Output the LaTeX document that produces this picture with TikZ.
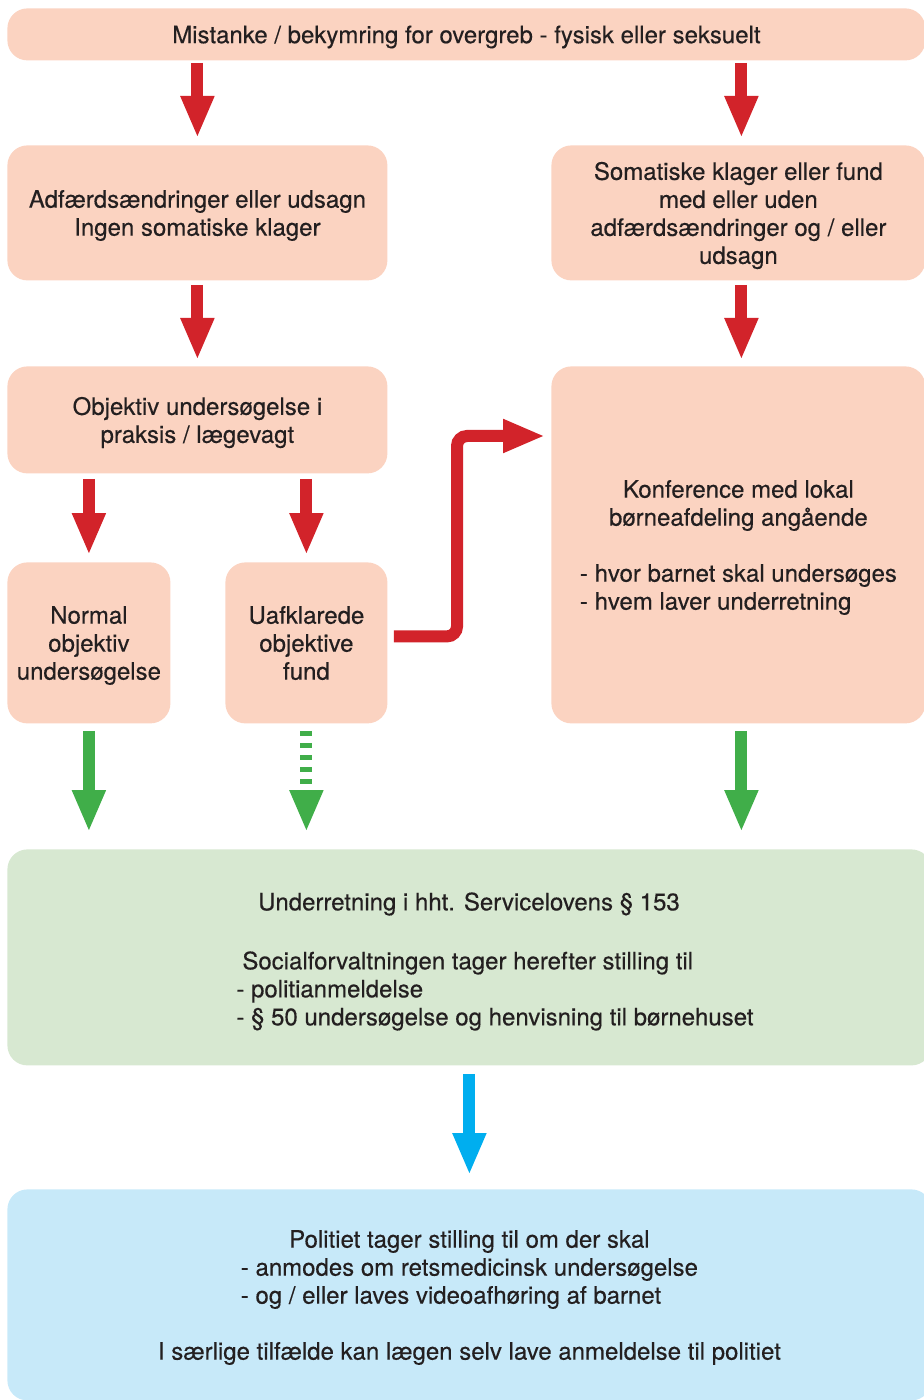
\documentclass[tikz,border=0pt]{standalone}
\usepackage{fontspec}
\setmainfont{TeX Gyre Heros}[FakeBold=0.35]
\usepackage{calc}
\usetikzlibrary{arrows.meta,positioning}

\definecolor{boxred}{RGB}{251,211,193}
\definecolor{boxgreen}{RGB}{215,232,209}
\definecolor{boxblue}{RGB}{199,233,249}
\definecolor{arrowred}{RGB}{210,35,42}
\definecolor{arrowgreen}{RGB}{64,174,73}
\definecolor{arrowblue}{RGB}{0,174,239}
\definecolor{txtgray}{RGB}{35,31,32}

\newcommand{\padline}[2]{\makebox[\widthof{#1}][l]{#2}}

\begin{document}
\begin{tikzpicture}[x=0.5pt,y=-0.5pt,
        font=\fontsize{12}{14}\selectfont,
        box/.style = {fill=#1,rounded corners=10pt,anchor=north west,inner sep=0pt,
                      align=center,text=txtgray,text depth=0pt},
        box/.default = boxred,
        txt/.style = {inner sep=0pt,text=txtgray},
        blockarrow/.style = {draw=#1,line width=6pt,-{Triangle[width=15.5pt,length=21pt]}},
        redarrow/.style = {blockarrow=arrowred},
        greenarrow/.style = {blockarrow=arrowgreen},
        bluearrow/.style = {blockarrow=arrowblue}
        ]

        \useasboundingbox (0,0) rectangle (924,1400);
        \clip (0,0) rectangle (924,1400);

        %Kasser
        \node[box,minimum width=459pt,minimum height=26pt] (mist) at (7,8)
            {Mistanke / bekymring for overgreb - fysisk eller seksuelt};
        \node[box,minimum width=190pt,minimum height=67.5pt] (adf) at (7,145)
            {Adfærdsændringer eller udsagn\\Ingen somatiske klager};
        \node[box,minimum width=187pt,minimum height=67.5pt] (som) at (551,145)
            {Somatiske klager eller fund\\med eller uden\\adfærdsændringer og / eller\\udsagn};
        \node[box,minimum width=190pt,minimum height=53.5pt] (obj) at (7,366)
            {Objektiv undersøgelse i\\praksis / lægevagt};
        \node[box,minimum width=81.5pt,minimum height=80.5pt] (norm) at (7,562)
            {Normal\\objektiv\\undersøgelse};
        \node[box,minimum width=81pt,minimum height=80.5pt] (uaf) at (225,562)
            {Uafklarede\\objektive\\fund};
        \node[box,minimum width=187pt,minimum height=178.5pt] (konf) at (551,366)
            {Konference med lokal\\børneafdeling angående\\[14pt]
             - hvor barnet skal undersøges\\
             \padline{- hvor barnet skal undersøges}{- hvem laver underretning}};
        \node[box=boxgreen,minimum width=462pt,minimum height=108pt] (soc) at (7,849) {};
        \node[box=boxblue,minimum width=462pt,minimum height=105.5pt,text depth=-4.5pt] (pol) at (7,1189)
            {Politiet tager stilling til om der skal\\
             - anmodes om retsmedicinsk undersøgelse\\
             \padline{- anmodes om retsmedicinsk undersøgelse}{- og / eller laves videoafhøring af barnet}\\[14pt]
             I særlige tilfælde kan lægen selv lave anmeldelse til politiet};

        %Tekst i grøn kasse
        \node[txt] (socA) at (469,904) {Underretning i hht. Servicelovens \S\ 153};
        \node[txt,align=left,anchor=north west] (socB) at (236,951)
            {\hspace*{3pt}Socialforvaltningen tager herefter stilling til\\
             - politianmeldelse\\
             - \S\ 50 undersøgelse og henvisning til børnehuset};

        %Røde pile
        \draw[redarrow,shorten <=1pt,shorten >=3.5pt] (mist.south -| adf.north) -- (adf.north);
        \draw[redarrow,shorten <=1pt,shorten >=3.5pt] ([xshift=1.5pt]mist.south -| som.north) -- ([xshift=1.5pt]som.north);
        \draw[redarrow,shorten <=2pt,shorten >=3pt] (adf.south) -- (obj.north);
        \draw[redarrow,shorten <=2pt,shorten >=3pt] ([xshift=1.5pt]som.south) -- ([xshift=1.5pt]konf.north);
        \draw[redarrow,shorten <=2.5pt,shorten >=3.5pt] (obj.south -| norm.north) -- (norm.north);
        \draw[redarrow,shorten <=2.5pt,shorten >=3.5pt] (obj.south -| uaf.north) -- (uaf.north);
        \coordinate (bend) at (457,436);
        \draw[redarrow,rounded corners=5pt,shorten <=3pt,shorten >=3pt]
            ([yshift=3.25pt]uaf.east) -| (bend) -- (konf.west |- bend);

        %Grønne pile
        \draw[greenarrow,shorten <=3.5pt,shorten >=8.5pt] (norm.south) -- (soc.north -| norm.south);
        \draw[greenarrow,dash pattern=on 2.5pt off 3.55pt,shorten <=3.5pt,shorten >=8.5pt]
            (uaf.south) -- (soc.north -| uaf.south);
        \draw[greenarrow,shorten <=3.5pt,shorten >=8.5pt] ([xshift=1.5pt]konf.south) -- ([xshift=1.5pt]soc.north -| konf.south);

        %Blå pil
        \draw[bluearrow,shorten <=4pt,shorten >=7pt] (soc.south) -- (pol.north);

\end{tikzpicture}
\end{document}
